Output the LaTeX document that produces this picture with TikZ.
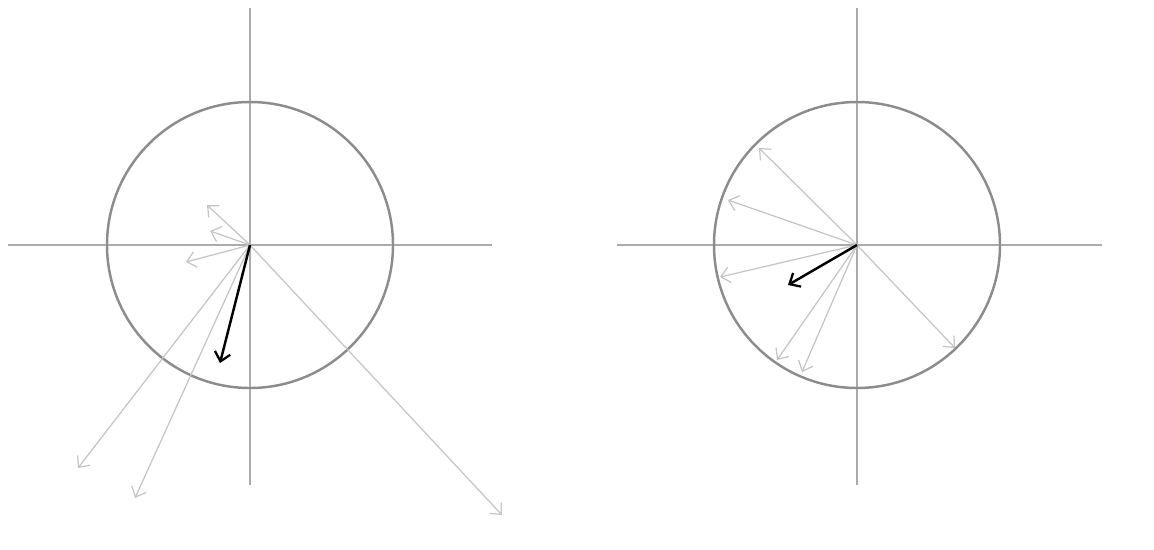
\documentclass[tikz,border=0pt]{standalone}
\usepackage{tikz}
\usetikzlibrary{arrows.meta,calc}
\definecolor{axisgray}{HTML}{ABABAB}
\definecolor{ringgray}{HTML}{8C8C8C}
\definecolor{vecgray}{HTML}{C4C4C4}
\tikzset{
  axis/.style={draw=axisgray,line width=1.1pt},
  ring/.style={draw=ringgray,line width=1.4pt},
  vec/.style={-{Straight Barb[length=5pt,width=9pt]},draw=vecgray,line width=.7pt},
  mainvec/.style={-{Straight Barb[length=5pt,width=9pt,line width=1.3pt]},draw=black,line width=1.4pt}
}

\begin{document}
\begin{tikzpicture}[x=0.02cm,y=-0.02cm]
  \useasboundingbox (0,0) rectangle (1154,549);
  % left: vectors before normalisation
  \coordinate (L) at (250,245);
  \draw[axis] (8,245)--(492,245); \draw[axis] (250,8)--(250,485);
  \draw[ring] (L) circle (143);
  \foreach \p in {(207,205),(210,231),(186,262),(78,468),(135,498),(502,515)}
    \draw[vec] (L) -- \p;
  \coordinate (Lsum) at (220,363);
  \draw[mainvec] (L) -- (Lsum);
  % right: unit vectors on the circle
  \coordinate (R) at (857,245);
  \draw[axis] (617,245)--(1102,245); \draw[axis] (857,8)--(857,485);
  \draw[ring] (R) circle (143);
  \foreach \p in {(759,148),(728,200),(720,277),(777,360),(802,372),(955,348)}
    \draw[vec] (R) -- \p;
  \coordinate (Rsum) at (788,285);
  \draw[mainvec] (R) -- (Rsum);
\end{tikzpicture}
\end{document}
